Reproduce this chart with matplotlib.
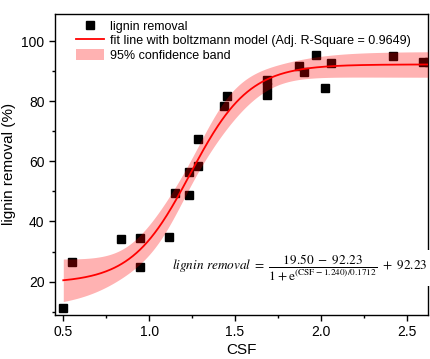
import numpy as np
import matplotlib
matplotlib.use('Agg')
import matplotlib.pyplot as plt
from matplotlib.patches import Patch
from matplotlib.lines import Line2D

plt.rcParams['font.family'] = ['Liberation Sans', 'DejaVu Sans']
plt.rcParams['mathtext.fontset'] = 'stix'

# measured points
csf = [0.50, 0.551, 0.838, 0.949, 0.949, 1.118, 1.153, 1.234, 1.234, 1.287, 1.287,
       1.438, 1.456, 1.685, 1.685, 1.685, 1.876, 1.905, 1.973, 2.025, 2.058, 2.42, 2.594, 2.63]
removal = [11.3, 26.5, 34.1, 34.5, 24.9, 35.0, 49.5, 48.9, 56.6, 58.6, 67.5,
           78.4, 81.8, 87.0, 84.6, 82.2, 91.7, 89.8, 95.3, 84.4, 92.7, 95.0, 93.1, 93.1]

# boltzmann fit parameters
A1, A2, x0, dx = 19.50, 92.23, 1.240, 0.1712
t_val = 2.086


def boltzmann(x, a1, a2, c, w):
    return (a1 - a2) / (1 + np.exp((x - c) / w)) + a2


def jacobian(x, a1, a2, c, w):
    e = np.exp((x - c) / w)
    d = 1 + e
    j_a1 = 1 / d
    j_a2 = 1 - 1 / d
    j_c = (a1 - a2) * e / (w * d ** 2)
    j_w = (a1 - a2) * e * (x - c) / (w ** 2 * d ** 2)
    return np.column_stack([j_a1, j_a2, j_c, j_w])


xd = np.array(csf)
yd = np.array(removal)
params = (A1, A2, x0, dx)
resid = yd - boltzmann(xd, *params)
s2 = np.sum(resid ** 2) / (len(xd) - 4)
J = jacobian(xd, *params)
cov = s2 * np.linalg.inv(J.T @ J)

xf = np.linspace(0.5, 2.624, 300)
yf = boltzmann(xf, *params)
G = jacobian(xf, *params)
half = t_val * np.sqrt(np.einsum('ij,jk,ik->i', G, cov, G))

fig = plt.figure(figsize=(4.3, 3.59), dpi=100)
ax = fig.add_axes([0.128, 0.1234, 0.867, 0.8376])

ax.plot(csf, removal, 's', color='black', markersize=5.2, zorder=2)
ax.fill_between(xf, yf - half, yf + half, color='#ff0000', alpha=0.3, linewidth=0, zorder=3)
ax.plot(xf, yf, color='red', linewidth=1.3, zorder=4)

ax.set_xlim(0.452, 2.624)
ax.set_ylim(9, 109)
ax.set_xticks([0.5, 1.0, 1.5, 2.0, 2.5])
ax.set_xticks([0.75, 1.25, 1.75, 2.25], minor=True)
ax.set_yticks([20, 40, 60, 80, 100])
ax.set_yticks([10, 30, 50, 70, 90], minor=True)
ax.tick_params(axis='both', which='major', direction='out', length=4, width=1, labelsize=10)
ax.tick_params(axis='both', which='minor', direction='out', length=2.5, width=1)
for sp in ax.spines.values():
    sp.set_linewidth(1)
ax.set_xlabel('CSF', fontsize=11, labelpad=3)
ax.set_ylabel('lignin removal (%)', fontsize=11, labelpad=4)

handles = [
    Line2D([], [], marker='s', color='black', linestyle='none', markersize=6),
    Line2D([], [], color='red', linewidth=1.3),
    Patch(facecolor='#ff0000', alpha=0.3, edgecolor='none'),
]
labels = ['lignin removal',
          'fit line with boltzmann model (Adj. R-Square = 0.9649)',
          '95% confidence band']
ax.legend(handles, labels, loc='upper left', bbox_to_anchor=(0.035, 1.005), frameon=False,
          fontsize=9, handlelength=2.3, handleheight=1.0, labelspacing=0.12, handletextpad=0.45,
          borderaxespad=0.2)

ax.text(1.135, 24.6,
        r'$\mathit{lignin\ removal}\ =\ \dfrac{19.50\ -\ 92.23}{1+\mathrm{e}^{(\mathrm{CSF}-1.240)/0.1712}}\ +\ 92.23$',
        fontsize=9.5, va='center', ha='left',
        bbox=dict(facecolor='white', edgecolor='none', pad=2))

fig.savefig('out.png', dpi=100)
